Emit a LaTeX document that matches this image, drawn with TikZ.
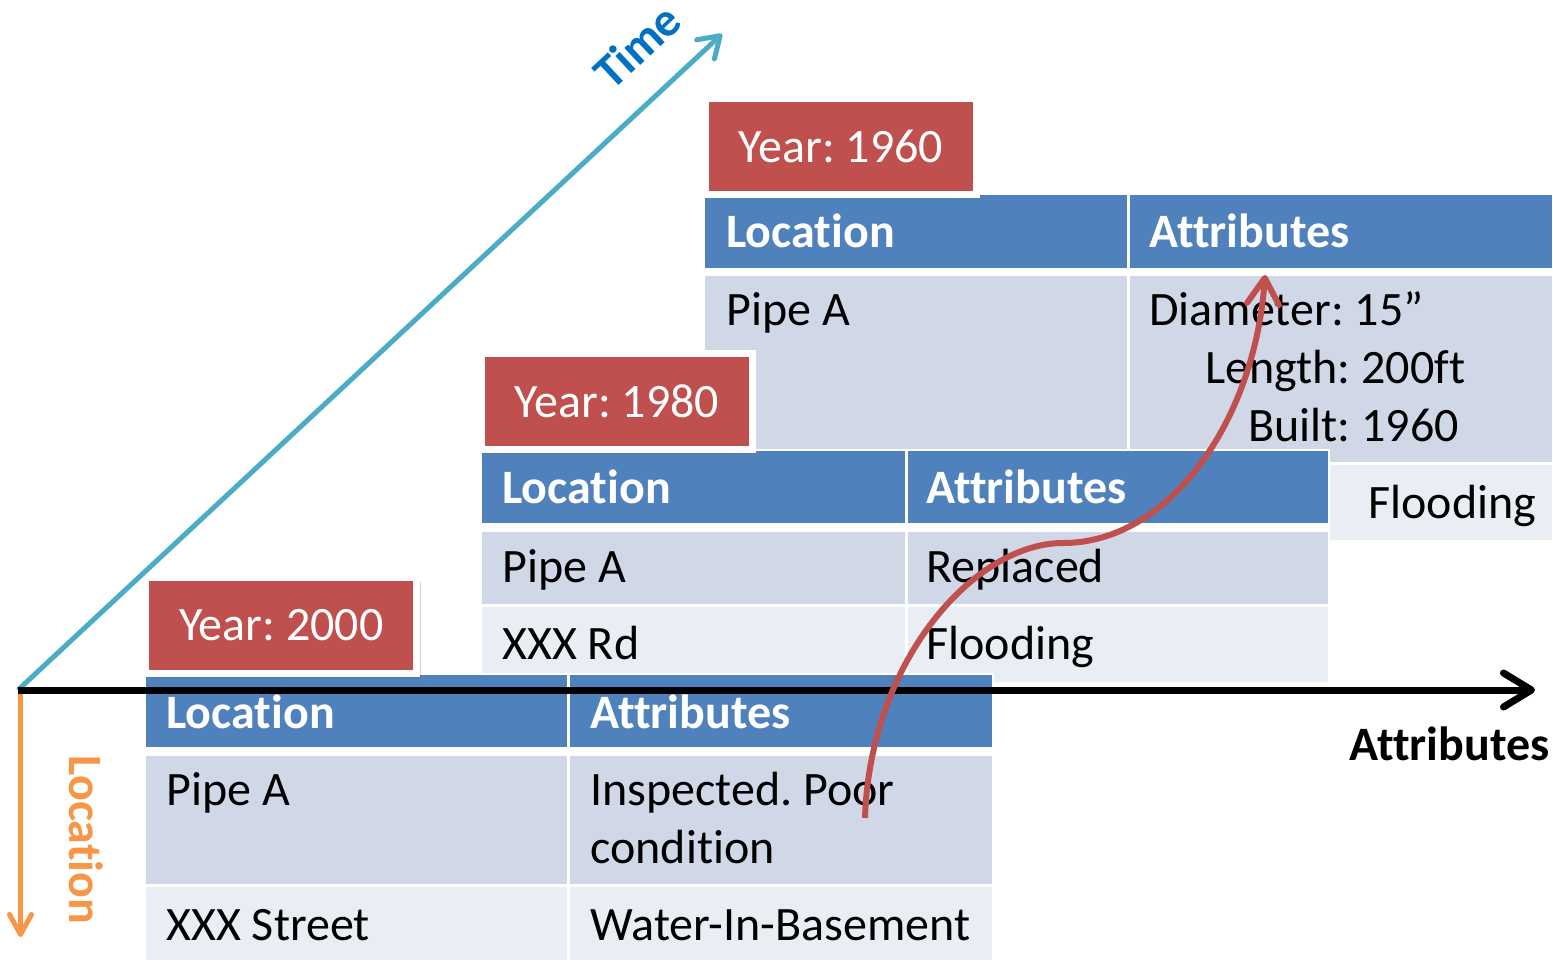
\documentclass[tikz,border=0pt]{standalone}
\usepackage{fontspec}
\setmainfont{Carlito}[Ligatures={NoCommon}]
\usetikzlibrary{arrows.meta,shadows}
\frenchspacing
\definecolor{hdrblue}{HTML}{4F81BD}
\definecolor{rowA}{HTML}{D0D8E8}
\definecolor{rowB}{HTML}{E9EDF4}
\definecolor{yred}{HTML}{C0504D}
\definecolor{tealc}{HTML}{4BACC6}
\definecolor{orangec}{HTML}{F79646}
\definecolor{timeblue}{HTML}{0070C0}
\newcommand{\diafont}{\fontsize{24}{29}\selectfont\frenchspacing}
\tikzset{
  hdr/.style={fill=hdrblue},
  rowa/.style={fill=rowA},
  rowb/.style={fill=rowB},
  txt/.style={anchor=base west, inner sep=0pt, font=\diafont, text=black},
  htxt/.style={anchor=base west, inner sep=0pt, font=\diafont\bfseries, text=white},
  yearbox/.style={fill=yred, draw=white, line width=3.5pt, text=white, font=\diafont,
    minimum width=135.5pt, minimum height=48pt, inner sep=0pt,
    drop shadow={shadow xshift=2pt, shadow yshift=-2pt, opacity=0.3, fill=black!60}},
  axisarrow/.style={line width=3.5pt, -{Straight Barb[round,length=14pt,width=17pt]}},
  timearrow/.style={tealc, line width=2.5pt, -{Straight Barb[round,length=10pt,width=13pt]}},
  locarrow/.style={orangec, line width=2.5pt, -{Straight Barb[round,length=10pt,width=11pt]}},
  curvearrow/.style={yred, line width=3pt, -{Straight Barb[round,length=13pt,width=16pt]}},
}
\begin{document}
\begin{tikzpicture}[x=0.5pt,y=-0.5pt]
\useasboundingbox (0,0) rectangle (1553,960);

% ---------------- Table 1960 ----------------
\fill[white] (703,193) rectangle (1553,542);
\fill[hdr]  (705,195.3) rectangle (1127.2,267.7);
\fill[hdr]  (1130.2,195.3) rectangle (1551.5,267.7);
\fill[rowa] (705,276) rectangle (1127.2,462);
\fill[rowa] (1130.2,276) rectangle (1551.5,462);
\fill[rowb] (705,465) rectangle (1127.2,540);
\fill[rowb] (1130.2,465) rectangle (1551.5,540);
\node[htxt] (l60) at (726,247.3) {Location};
\node[htxt] (a60) at (1149,247.3) {Attributes};
\node[txt] (p60) at (726,325) {Pipe A};
\node[txt] (d60) at (1149,325) {Diameter: 15”};
\node[txt] (len60) at (1205,383) {Length: 200ft};
\node[txt] (b60) at (1248,441.7) {Built: 1960};
\node[txt] (f60) at (1368,518) {Flooding};
\node[yearbox] (y60) at (840.8,146) {Year: 1960};

% ---------------- Table 1980 ----------------
\fill[white] (480,449) rectangle (1329.7,684);
\fill[hdr]  (482,451) rectangle (904.5,523);
\fill[hdr]  (907.5,451) rectangle (1327.7,523);
\fill[rowa] (482,532) rectangle (904.5,604);
\fill[rowa] (907.5,532) rectangle (1327.7,604);
\fill[rowb] (482,607) rectangle (904.5,682);
\fill[rowb] (907.5,607) rectangle (1327.7,682);
\node[htxt] (l80) at (502,503) {Location};
\node[htxt] (a80) at (926,503) {Attributes};
\node[txt] (p80) at (502,582) {Pipe A};
\node[txt] (r80) at (926,582) {Replaced};
\node[txt] (x80) at (502,659) {XXX Rd};
\node[txt] (f80) at (926,659) {Flooding};
\node[yearbox] (y80) at (616.75,401.5) {Year: 1980};

% ---------------- Table 2000 ----------------
\fill[white] (144,673) rectangle (993.7,960);
\fill[hdr]  (146,675) rectangle (566.5,747);
\fill[hdr]  (569.5,675) rectangle (991.7,747);
\fill[rowa] (146,755.7) rectangle (566.5,884);
\fill[rowa] (569.5,755.7) rectangle (991.7,884);
\fill[rowb] (146,887) rectangle (566.5,960);
\fill[rowb] (569.5,887) rectangle (991.7,960);
\node[htxt] (l00) at (166,728) {Location};
\node[htxt] (a00) at (590,728) {Attributes};
\node[txt] (p00) at (166,805.7) {Pipe A};
\node[txt] (i00) at (590,805.7) {Inspected. Poor};
\node[txt] (c00) at (590,863) {condition};
\node[txt] (x00) at (166,940) {XXX Street};
\node[txt] (w00) at (590,940) {Water-In-Basement};
\node[yearbox] (y00) at (281.3,625.5) {Year: 2000};

% ---------------- Axes ----------------
\coordinate (O) at (18,690);
\coordinate (xend) at (1535,690);
\coordinate (tend) at (722,34);
\coordinate (lstart) at (20.5,690);
\coordinate (lend) at (20.5,937);
\draw[timearrow] (O) -- (tend);
\draw[locarrow] (lstart) -- (lend);
\draw[axisarrow] (O) -- (xend);

\node[font=\diafont\bfseries, text=timeblue, rotate=43, inner sep=0pt] (timelbl) at (637,46) {Time};
\node[font=\diafont\bfseries, text=orangec, rotate=-90, inner sep=0pt] (loclbl) at (86,840) {Location};
\node[anchor=base west, inner sep=0pt, font=\diafont\bfseries, text=black] (attrlbl) at (1349,760) {Attributes};

% ---------------- Red curve ----------------
\coordinate (cs) at (865,818);
\coordinate (cm) at (1063,543);
\coordinate (ce) at (1265,275);
\draw[curvearrow] (cs) .. controls (870,660) and (975,543) .. (cm)
                       .. controls (1170,543) and (1255,420) .. (ce);
\end{tikzpicture}
\end{document}
